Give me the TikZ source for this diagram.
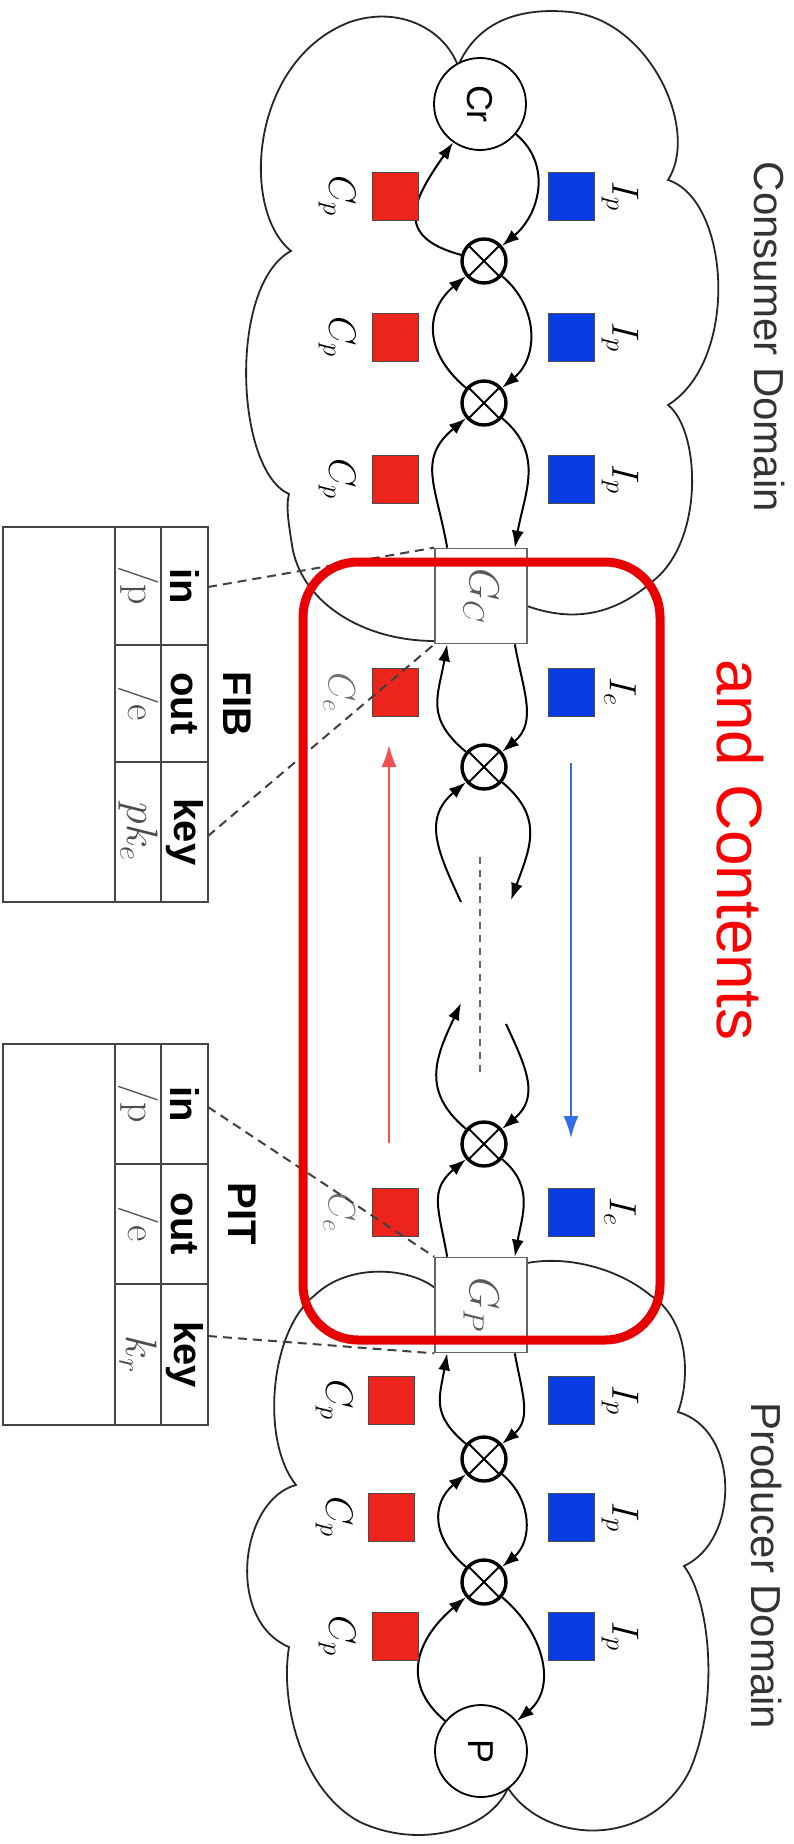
\RequirePackage{fix-cm}
\documentclass[tikz,border=0pt]{standalone}
\usepackage{fontspec}
\setsansfont{Liberation Sans}
\usetikzlibrary{arrows.meta}
\definecolor{sqred}{RGB}{236,36,28}
\definecolor{sqblue}{RGB}{8,60,228}
\definecolor{boxred}{RGB}{232,0,0}
\definecolor{txtred}{RGB}{255,0,0}
\definecolor{arrred}{RGB}{242,80,80}
\definecolor{arrblue}{RGB}{50,110,232}
\definecolor{tabline}{RGB}{70,70,70}
\newcommand\myfs[1]{\fontsize{#1}{#1}\selectfont}
\begin{document}
\begin{tikzpicture}[x=1pt,y=-1pt,
  cloudline/.style={line width=1.8pt, black!85},
  flow/.style={line width=2pt, -{Latex[length=17pt,width=12pt]}},
  larc/.style={out=140, in=220, looseness=1.25},
  rarc/.style={out=-40, in=40, looseness=1.1},
  xnode/.style={circle, draw, line width=3.4pt, minimum size=44pt, inner sep=0pt, fill=white,
    path picture={\draw[line width=2pt] (path picture bounding box.north west) -- (path picture bounding box.south east)
      (path picture bounding box.north east) -- (path picture bounding box.south west);}},
  endnode/.style={circle, draw, line width=1.8pt, minimum size=92pt, inner sep=0pt, fill=white, font=\sffamily\myfs{36}},
  gate/.style={rectangle, draw=black!60, line width=1.6pt, fill=white, minimum width=92pt, minimum height=95pt, inner sep=0pt, text=black!65, font=\myfs{42}},
  csq/.style={rectangle, fill=sqred, draw=black!70, line width=0.8pt, minimum width=46pt, minimum height=48pt, inner sep=0pt},
  isq/.style={rectangle, fill=sqblue, draw=black!70, line width=0.8pt, minimum width=46pt, minimum height=48pt, inner sep=0pt},
  lbl/.style={rotate=-90, font=\myfs{38}, inner sep=0pt},
  glbl/.style={rotate=-90, font=\myfs{38}, inner sep=0pt, text=black!55},
  hdr/.style={rotate=-90, font=\sffamily\bfseries\myfs{40}, inner sep=0pt},
  val/.style={rotate=-90, font=\myfs{40}, inner sep=0pt, text=black!70},
  mval/.style={rotate=-90, font=\myfs{44}, inner sep=0pt, text=black!70},
  dom/.style={rotate=-90, font=\sffamily\myfs{42}, text=black!80, inner sep=0pt},
  dashline/.style={line width=2pt, black!75, dash pattern=on 9pt off 6pt},
  tab/.style={tabline, line width=2pt}
]
\useasboundingbox (0,0) rectangle (794,1844);
\fill[white] (0,0) rectangle (794,1844);

% consumer cloud
\draw[cloudline] (435,641)
 .. controls (360,641) and (300,600) .. (292,545)
 .. controls (288,520) and (286,505) .. (289,494)
 .. controls (235,470) and (228,285) .. (291,251)
 .. controls (240,210) and (250,60) .. (350,22)
 .. controls (400,5) and (445,30) .. (458,66)
 .. controls (480,15) and (530,8) .. (570,12)
 .. controls (650,20) and (700,130) .. (668,180)
 .. controls (730,200) and (740,360) .. (668,405)
 .. controls (700,430) and (705,540) .. (653,581)
 .. controls (620,610) and (580,625) .. (527,606);

% producer cloud
\draw[cloudline] (435,1288)
 .. controls (410,1268) and (350,1262) .. (315,1295)
 .. controls (270,1330) and (260,1440) .. (296,1485)
 .. controls (240,1500) and (225,1620) .. (289,1647)
 .. controls (280,1700) and (300,1790) .. (360,1822)
 .. controls (420,1850) and (490,1830) .. (508,1788)
 .. controls (545,1845) and (650,1850) .. (690,1770)
 .. controls (720,1700) and (710,1600) .. (684,1566)
 .. controls (740,1540) and (740,1430) .. (678,1412)
 .. controls (690,1380) and (690,1320) .. (650,1295)
 .. controls (620,1270) and (570,1255) .. (527,1263);

% central chain
\node[endnode] (Cr) at (480,104) {\rotatebox{-90}{Cr}};
\node[xnode] (o1) at (484,261) {};
\node[xnode] (o2) at (484,403) {};
\node[gate] (Gc) at (481,596) {\rotatebox{-90}{$G_C$}};
\node[xnode] (o3) at (484,767) {};
\node[xnode] (o4) at (484,1144) {};
\node[gate] (Gp) at (481,1305) {\rotatebox{-90}{$G_P$}};
\node[xnode] (o5) at (484,1459) {};
\node[xnode] (o6) at (484,1582) {};
\node[endnode] (P) at (481,1751) {\rotatebox{-90}{P}};

\coordinate (d1l) at (461,902);
\coordinate (d1r) at (511,900);
\coordinate (d2l) at (461,1003);
\coordinate (d2r) at (506,1024);

% arcs consumer
\draw[flow] (o1) to[out=165, in=235, looseness=1.6] (Cr);
\draw[flow] (Cr) to[rarc] (o1);
\draw[flow] (o2) to[larc] (o1);
\draw[flow] (o1) to[rarc] (o2);
\draw[flow] (Gc.125) to[out=100, in=220, looseness=1.25] (o2);
\draw[flow] (o2) to[out=-40, in=80, looseness=1.1] (Gc.55);
\draw[flow] (o3) to[out=140, in=260, looseness=1.25] (Gc.235);
\draw[flow] (Gc.-55) to[out=-80, in=40, looseness=1.1] (o3);
\draw[flow] (d1l) to[out=115, in=220, looseness=1.2] (o3);
\draw[flow] (o3) to[out=-40, in=70, looseness=1.2] (d1r);
% arcs producer
\draw[flow] (o4) to[out=140, in=245, looseness=1.2] (d2l);
\draw[flow] (d2r) to[out=-65, in=40, looseness=1.2] (o4);
\draw[flow] (Gp.125) to[out=100, in=220, looseness=1.25] (o4);
\draw[flow] (o4) to[out=-40, in=80, looseness=1.1] (Gp.55);
\draw[flow] (o5) to[out=140, in=260, looseness=1.25] (Gp.235);
\draw[flow] (Gp.-55) to[out=-80, in=40, looseness=1.1] (o5);
\draw[flow] (o6) to[larc] (o5);
\draw[flow] (o5) to[rarc] (o6);
\draw[flow] (P) to[larc] (o6);
\draw[flow] (o6) to[rarc] (P);

% squares consumer
\node[csq] (c1) at (395,196) {};
\node[csq] (c2) at (395,337) {};
\node[csq] (c3) at (395,479) {};
\node[isq] (i1) at (571,196) {};
\node[isq] (i2) at (571,337) {};
\node[isq] (i3) at (571,479) {};
\node[lbl] (lc1) at (337,196) {$C_p$};
\node[lbl] (lc2) at (337,337) {$C_p$};
\node[lbl] (lc3) at (337,479) {$C_p$};
\node[lbl] (li1) at (620,196) {$I_p$};
\node[lbl] (li2) at (620,337) {$I_p$};
\node[lbl] (li3) at (620,479) {$I_p$};
% squares edge
\node[csq] (ce1) at (395,692) {};
\node[isq] (ie1) at (571,692) {};
\node[csq] (ce2) at (395,1212) {};
\node[isq] (ie2) at (571,1212) {};
\node[glbl] (lce1) at (339,692) {$C_e$};
\node[lbl] (lie1) at (620,692) {$I_e$};
\node[glbl] (lce2) at (339,1212) {$C_e$};
\node[lbl] (lie2) at (620,1212) {$I_e$};
% squares producer
\node[csq] (pc1) at (391,1400) {};
\node[csq] (pc2) at (391,1517) {};
\node[csq] (pc3) at (395,1636) {};
\node[isq] (pi1) at (571,1400) {};
\node[isq] (pi2) at (571,1517) {};
\node[isq] (pi3) at (571,1636) {};
\node[lbl] (lpc1) at (334,1400) {$C_p$};
\node[lbl] (lpc2) at (334,1517) {$C_p$};
\node[lbl] (lpc3) at (337,1636) {$C_p$};
\node[lbl] (lpi1) at (620,1400) {$I_p$};
\node[lbl] (lpi2) at (620,1517) {$I_p$};
\node[lbl] (lpi3) at (620,1636) {$I_p$};

% middle dashes and long arrows
\coordinate (m1) at (480,857);
\coordinate (m2) at (480,1072);
\draw[line width=2pt, black!60, dash pattern=on 7pt off 6pt] (m1) -- (m2);
\coordinate (ra1) at (389,1143);
\coordinate (ra2) at (389,745);
\draw[arrred, line width=2pt, -{Latex[length=22pt,width=15pt]}] (ra1) -- (ra2);
\coordinate (ba1) at (571,763);
\coordinate (ba2) at (571,1138);
\draw[arrblue, line width=2pt, -{Latex[length=22pt,width=15pt]}] (ba1) -- (ba2);

% FIB table
\draw[tab] (3,527) rectangle (208,902);
\draw[tab] (115,527) -- (115,902) (161,527) -- (161,902) (115,645) -- (208,645) (115,762) -- (208,762);
\node[hdr] (fibt) at (237,704) {FIB};
\node[hdr] (fibh1) at (184.5,586) {in};
\node[hdr] (fibh2) at (184.5,703.5) {out};
\node[hdr] (fibh3) at (184.5,832) {key};
\node[val] (fibv1) at (138,586) {/p};
\node[val] (fibv2) at (138,703.5) {/e};
\node[mval] (fibv3) at (138,832) {$pk_e$};
% PIT table
\draw[tab] (3,1044) rectangle (208,1425);
\draw[tab] (115,1044) -- (115,1425) (161,1044) -- (161,1425) (115,1164) -- (208,1164) (115,1284) -- (208,1284);
\node[hdr] (pitt) at (242,1214) {PIT};
\node[hdr] (pith1) at (184.5,1104) {in};
\node[hdr] (pith2) at (184.5,1224) {out};
\node[hdr] (pith3) at (184.5,1354.5) {key};
\node[val] (pitv1) at (138,1104) {/p};
\node[val] (pitv2) at (138,1224) {/e};
\node[mval] (pitv3) at (138,1354.5) {$k_r$};

% dashed connectors
\coordinate (fibin) at (208,587);
\coordinate (fibkey) at (208,836);
\coordinate (pitin) at (208,1107);
\coordinate (pitkey) at (208,1336);
\draw[dashline] (fibin) -- (Gc.north west);
\draw[dashline] (fibkey) -- (Gc.south west);
\draw[dashline] (pitin) -- (Gp.north west);
\draw[dashline] (pitkey) -- (Gp.south west);

% domain labels
\node[dom] (cdom) at (770,337) {Consumer Domain};
\node[dom] (pdom) at (767,1566) {Producer Domain};

% red trust box
\node[draw=boxred, line width=9pt, rounded corners=55pt, minimum width=357pt, minimum height=778pt, inner sep=0pt] (trust) at (481.5,951) {};
\node[rotate=-90, text=txtred, font=\sffamily\myfs{64}, inner sep=0pt] (rtext) at (740,850) {and Contents};
\end{tikzpicture}
\end{document}
